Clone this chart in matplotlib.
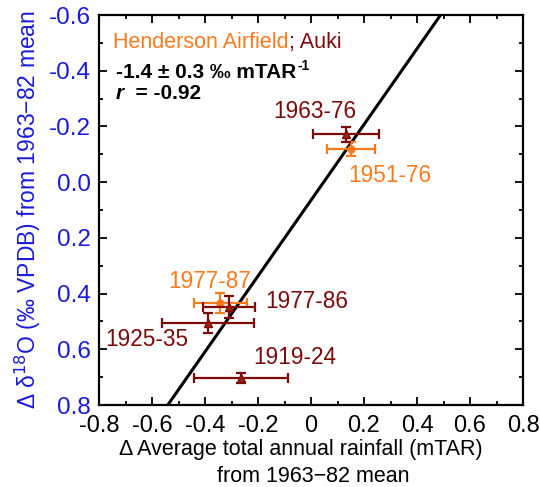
import matplotlib.pyplot as plt
from matplotlib.ticker import MultipleLocator

plt.rcParams['font.family'] = ['Liberation Sans', 'DejaVu Sans']

# Henderson Airfield (orange)
hend_labels = ['1951-76', '1977-87']
hend_x = [0.151, -0.343]
hend_xerr = [0.091, 0.10]
hend_y = [-0.118, 0.434]
hend_yerr = [0.025, 0.036]

# Auki (dark red)
auki_labels = ['1963-76', '1977-86', '1925-35', '1919-24']
auki_x = [0.132, -0.309, -0.389, -0.264]
auki_xerr = [0.125, 0.098, 0.175, 0.178]
auki_y = [-0.172, 0.449, 0.506, 0.704]
auki_yerr = [0.027, 0.040, 0.036, 0.018]

# regression line
fit_slope = -1.36
fit_intercept = 0.065

orange = '#ff7a1c'
darkred = '#7d0a0a'
blue = '#1a1adc'

W, H = 540, 487
fig = plt.figure(figsize=(W / 100, H / 100), dpi=100)
ax = fig.add_axes([99 / W, 1 - 405 / H, 424 / W, 390 / H])

xs = [-0.8, 0.8]
ax.plot(xs, [fit_intercept + fit_slope * v for v in xs], color='black', lw=2.2, zorder=1)

ax.errorbar(auki_x, auki_y, xerr=auki_xerr, yerr=auki_yerr, fmt='^', color=darkred,
            mfc='#a02008', mec=darkred, ms=6, elinewidth=1.6, capsize=3.5, capthick=1.6, zorder=3)
ax.errorbar(hend_x, hend_y, xerr=hend_xerr, yerr=hend_yerr, fmt='o', color=orange,
            ms=5, elinewidth=1.6, capsize=3.5, capthick=1.6, zorder=2)

# period labels
hend_pos = [(390, 175), (210, 281)]
auki_pos = [(315, 111), (307, 301), (147, 339), (295, 357)]
for lab, (px, py) in zip(hend_labels, hend_pos):
    fig.text(px / W, 1 - py / H, lab, ha='center', va='center', fontsize=16.3, color=orange)
for lab, (px, py) in zip(auki_labels, auki_pos):
    fig.text(px / W, 1 - py / H, lab, ha='center', va='center', fontsize=16.3, color=darkred)


def text_after(prev, s, **kw):
    # place a text right after the end of the previous one
    fig.canvas.draw()
    bb = prev.get_window_extent()
    x0, y0 = prev.get_position()
    return fig.text(bb.x1 / W, y0, s, va='baseline', **kw)


t1 = fig.text(113 / W, 1 - 48 / H, 'Henderson Airfield', va='baseline',
              fontsize=15.5, color=orange)
text_after(t1, '; Auki', fontsize=15.5, color=darkred)

t2 = fig.text(116 / W, 1 - 78 / H, '-1.4 ± 0.3 ‰ mTAR', va='baseline',
              fontsize=15, fontweight='bold')
fig.canvas.draw()
bb = t2.get_window_extent()
fig.text((bb.x1 + 1) / W, 1 - 70 / H, '-1', va='baseline', fontsize=10, fontweight='bold')

t3 = fig.text(116 / W, 1 - 99 / H, 'r', va='baseline', fontsize=15,
              fontweight='bold', style='italic')
text_after(t3, '  = -0.92', fontsize=15, fontweight='bold')

ax.set_xlim(-0.8, 0.8)
ax.set_ylim(0.8, -0.6)
ax.xaxis.set_minor_locator(MultipleLocator(0.1))
ax.yaxis.set_minor_locator(MultipleLocator(0.1))
ax.set_xticks([-0.8, -0.6, -0.4, -0.2, 0, 0.2, 0.4, 0.6, 0.8])
ax.set_xticklabels(['-0.8', '-0.6', '-0.4', '-0.2', '0', '0.2', '0.4', '0.6', '0.8'])
ax.set_yticks([-0.6, -0.4, -0.2, 0.0, 0.2, 0.4, 0.6, 0.8])
ax.set_yticklabels(['-0.6', '-0.4', '-0.2', '0.0', '0.2', '0.4', '0.6', '0.8'])
ax.tick_params(which='both', direction='in', top=True, right=True, width=1.3)
ax.tick_params(which='major', length=6)
ax.tick_params(which='minor', length=3)
ax.tick_params(axis='y', labelcolor=blue, pad=6, labelsize=17.5)
ax.tick_params(axis='x', pad=7, labelsize=17)
for s in ax.spines.values():
    s.set_linewidth(1.6)

# two-line x axis title
fig.text(301 / W, 1 - 450 / H, 'Δ Average total annual rainfall (mTAR)', ha='center',
         va='center', fontsize=15.5)
fig.text(313 / W, 1 - 476 / H, 'from 1963−82 mean', ha='center', va='center', fontsize=15.5)
ax.set_ylabel(r'Δ δ$^{18}$O (‰ VPDB) from 1963−82 mean', fontsize=16.5, color=blue, labelpad=4)

fig.savefig('out.png', dpi=100)
